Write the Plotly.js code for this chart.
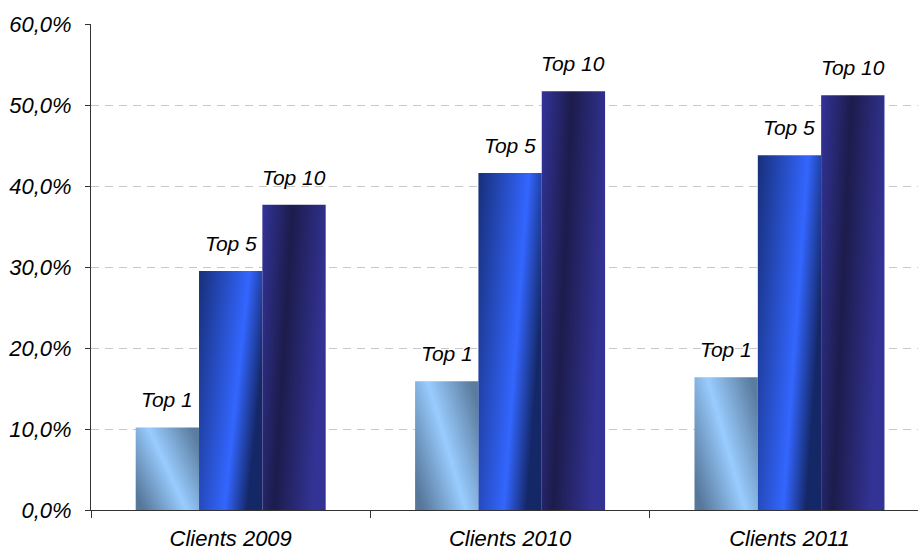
<!DOCTYPE html>
<html>
<head>
<meta charset="utf-8">
<script src="https://cdn.plot.ly/plotly-3.0.1.min.js"></script>
<style>
  html, body { margin: 0; padding: 0; background: #ffffff; }
  #chart { width: 918px; height: 550px; }
</style>
</head>
<body>
<div id="chart"></div>
<script>
// ---- data ----
const categories = ['Clients 2009', 'Clients 2010', 'Clients 2011'];
const seriesNames = ['Top 1', 'Top 5', 'Top 10'];
const top1 = [0.102, 0.159, 0.164];
const top5 = [0.295, 0.416, 0.438];
const top10 = [0.377, 0.517, 0.512];
const yTicks = [0, 0.1, 0.2, 0.3, 0.4, 0.5, 0.6];

const seriesValues = [top1, top5, top10];
const baseColors = ['#7fa6cf', '#3366ff', '#2a2a80'];
const FONT = 'Liberation Sans, Arial, sans-serif';

const bargap = 0.32;
const barW = (1 - bargap) / 3;

const traces = seriesValues.map((vals, i) => ({
  type: 'bar',
  name: seriesNames[i],
  x: categories,
  y: vals,
  marker: { color: baseColors[i], line: { width: 0 } },
  hoverinfo: 'none'
}));

const annotations = [];
seriesValues.forEach((vals, i) => {
  vals.forEach((v, j) => {
    annotations.push({
      x: j + (i - 1) * barW,
      y: v,
      xref: 'x', yref: 'y',
      text: seriesNames[i],
      showarrow: false,
      xanchor: 'center',
      yanchor: 'bottom',
      yshift: 14,
      font: { family: FONT, size: 21, color: '#000000', style: 'italic' }
    });
  });
});

const layout = {
  width: 918,
  height: 550,
  margin: { l: 91, r: 0, t: 24, b: 40, pad: 0 },
  paper_bgcolor: '#ffffff',
  plot_bgcolor: '#ffffff',
  separators: ', ',
  showlegend: false,
  barmode: 'group',
  bargap: bargap,
  bargroupgap: 0,
  xaxis: {
    type: 'category',
    range: [-0.5, 2.46],
    showline: true,
    linecolor: '#333333',
    linewidth: 1,
    ticks: 'outside',
    tickson: 'boundaries',
    ticklen: 7,
    tickcolor: '#333333',
    showgrid: false,
    zeroline: false,
    ticklabelstandoff: 9,
    tickfont: { family: FONT, size: 22, color: '#000000', style: 'italic' },
    fixedrange: true
  },
  yaxis: {
    range: [0, 0.6],
    tickvals: yTicks,
    tickformat: '.1%',
    showline: true,
    linecolor: '#333333',
    linewidth: 1,
    ticks: 'outside',
    ticklen: 5,
    tickcolor: '#333333',
    showgrid: true,
    gridcolor: '#c8c8c8',
    gridwidth: 1,
    griddash: '8px,6px',
    zeroline: false,
    ticklabelstandoff: 9,
    tickfont: { family: FONT, size: 22, color: '#000000', style: 'italic' },
    fixedrange: true
  },
  annotations: annotations
};

const gradients = [
  { id: 'gTop1', x1: 0, y1: 0.8, x2: 1, y2: 0.2,
    stops: [[0, '#56779a'], [0.5, '#99ccff'], [1, '#5b7c9e']] },
  { id: 'gTop5', x1: 0, y1: 0, x2: 1, y2: 0.4,
    stops: [[0, '#172f7a'], [0.69, '#3366ff'], [1, '#142766']] },
  { id: 'gTop10', x1: 0, y1: 0, x2: 1, y2: 0.3,
    stops: [[0, '#333399'], [0.44, '#1c1c4c'], [1, '#333396']] }
];

Plotly.newPlot('chart', traces, layout, { displayModeBar: false, staticPlot: true }).then(gd => {
  const svg = gd.querySelector('svg.main-svg');
  const NS = 'http://www.w3.org/2000/svg';
  let defs = svg.querySelector('defs');
  if (!defs) { defs = document.createElementNS(NS, 'defs'); svg.insertBefore(defs, svg.firstChild); }
  gradients.forEach(g => {
    const lg = document.createElementNS(NS, 'linearGradient');
    lg.setAttribute('id', g.id);
    lg.setAttribute('x1', g.x1); lg.setAttribute('y1', g.y1);
    lg.setAttribute('x2', g.x2); lg.setAttribute('y2', g.y2);
    g.stops.forEach(s => {
      const st = document.createElementNS(NS, 'stop');
      st.setAttribute('offset', s[0]);
      st.setAttribute('stop-color', s[1]);
      lg.appendChild(st);
    });
    defs.appendChild(lg);
  });
  const traceGroups = gd.querySelectorAll('.barlayer .trace');
  traceGroups.forEach((tg, i) => {
    tg.querySelectorAll('.point path').forEach(p => {
      p.style.fill = 'url(#' + gradients[i].id + ')';
      p.style.fillOpacity = 1;
    });
  });
});
</script>
</body>
</html>
